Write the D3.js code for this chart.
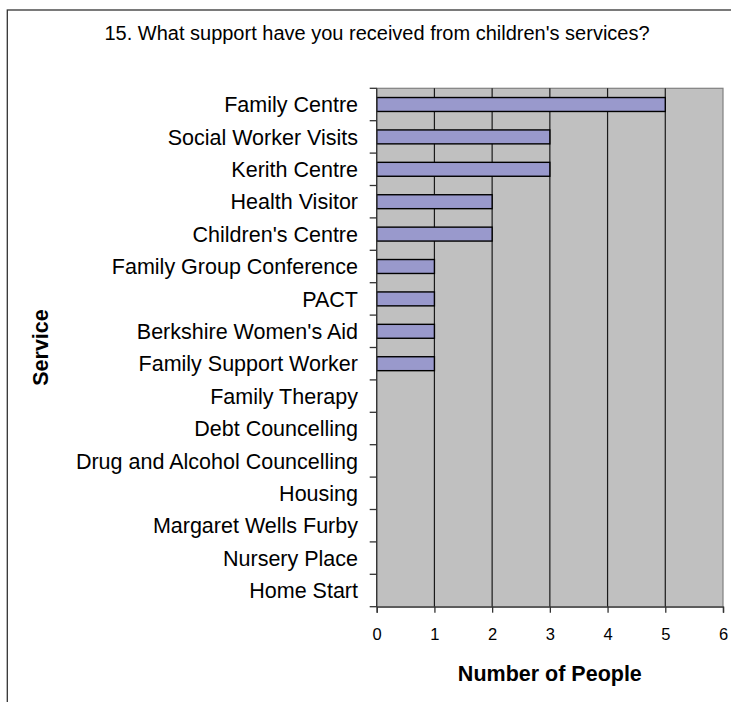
<!DOCTYPE html>
<html>
<head>
<meta charset="utf-8">
<script src="https://cdn.jsdelivr.net/npm/d3@7"></script>
<style>
  body { margin: 0; background: #fff; }
  text { font-family: "Liberation Sans", Arial, sans-serif; fill: #000; }
</style>
</head>
<body>
<svg></svg>
<script>
const size = {w: 731, h: 702};
const plot = {l: 376.7, t: 88.3, r: 723, b: 606.7};

const services = ["Family Centre", "Social Worker Visits", "Kerith Centre", "Health Visitor",
    "Children's Centre", "Family Group Conference", "PACT", "Berkshire Women's Aid",
    "Family Support Worker", "Family Therapy", "Debt Councelling", "Drug and Alcohol Councelling",
    "Housing", "Margaret Wells Furby", "Nursery Place", "Home Start"];
const counts = [5, 3, 3, 2, 2, 1, 1, 1, 1, 0, 0, 0, 0, 0, 0, 0];
const xTicks = [0, 1, 2, 3, 4, 5, 6];

const svg = d3.select('svg')
    .attr('width', size.w)
    .attr('height', size.h);

// outer chart frame (cut off at right and bottom)
svg.append('rect')
    .attr('x', 7.3).attr('y', 10)
    .attr('width', 740).attr('height', 720)
    .attr('fill', 'none')
    .attr('stroke', '#333')
    .attr('stroke-width', 1.3);

svg.append('text')
    .attr('x', 377).attr('y', 40)
    .attr('text-anchor', 'middle')
    .style('font-size', '20px')
    .text("15. What support have you received from children's services?");

let x = d3.scaleLinear()
    .domain([0, 6])
    .range([plot.l, plot.r]);

let y = d3.scaleBand()
    .domain(services)
    .range([plot.t, plot.b])
    .paddingInner(0.57)
    .paddingOuter(0.285);

// plot background
svg.append('rect')
    .attr('x', plot.l).attr('y', plot.t)
    .attr('width', plot.r - plot.l).attr('height', plot.b - plot.t)
    .attr('fill', '#c0c0c0')
    .attr('stroke', '#808080')
    .attr('stroke-width', 1.2);

// vertical gridlines
svg.append('g')
    .selectAll('line')
    .data(xTicks.slice(1, -1))
    .enter()
    .append('line')
    .attr('x1', d => x(d)).attr('x2', d => x(d))
    .attr('y1', plot.t).attr('y2', plot.b)
    .attr('stroke', '#1a1a1a')
    .attr('stroke-width', 1.2);

// bars
svg.append('g')
    .selectAll('rect')
    .data(counts.map((c, i) => ({name: services[i], value: c})).filter(d => d.value > 0))
    .enter()
    .append('rect')
    .attr('x', x(0))
    .attr('y', d => y(d.name))
    .attr('width', d => x(d.value) - x(0))
    .attr('height', y.bandwidth())
    .attr('fill', '#9999cc')
    .attr('stroke', '#000')
    .attr('stroke-width', 1.4);

// y axis: ticks at category boundaries
let yAxis = svg.append('g');
yAxis.append('line')
    .attr('x1', plot.l).attr('x2', plot.l)
    .attr('y1', plot.t).attr('y2', plot.b)
    .attr('stroke', '#333').attr('stroke-width', 1.3);
yAxis.selectAll('line.tick')
    .data(d3.range(services.length + 1))
    .enter()
    .append('line')
    .classed('tick', true)
    .attr('x1', plot.l - 7).attr('x2', plot.l)
    .attr('y1', i => plot.t + i * y.step())
    .attr('y2', i => plot.t + i * y.step())
    .attr('stroke', '#333').attr('stroke-width', 1.3);
yAxis.selectAll('text')
    .data(services)
    .enter()
    .append('text')
    .attr('x', 358)
    .attr('y', d => y(d) + y.bandwidth() / 2)
    .attr('dy', '0.36em')
    .attr('text-anchor', 'end')
    .style('font-size', '21.5px')
    .text(d => d);

// x axis
let xAxis = svg.append('g')
    .attr('transform', `translate(0,${plot.b})`)
    .call(d3.axisBottom(x).tickValues(xTicks).tickSize(6).tickPadding(15.5).tickFormat(d3.format('d')));
xAxis.select('.domain').attr('stroke', '#333').attr('stroke-width', 1.3);
xAxis.selectAll('.tick line').attr('stroke', '#333').attr('stroke-width', 1.3);
xAxis.selectAll('.tick text')
    .style('font-size', '16.5px')
    .style('font-family', '"Liberation Sans", Arial, sans-serif');

svg.append('text')
    .attr('x', (plot.l + plot.r) / 2).attr('y', 680.5)
    .attr('text-anchor', 'middle')
    .style('font-size', '21.5px')
    .style('font-weight', 'bold')
    .text('Number of People');

svg.append('text')
    .attr('transform', `translate(47.5,${(plot.t + plot.b) / 2}) rotate(-90)`)
    .attr('text-anchor', 'middle')
    .style('font-size', '21.5px')
    .style('font-weight', 'bold')
    .text('Service');
</script>
</body>
</html>
